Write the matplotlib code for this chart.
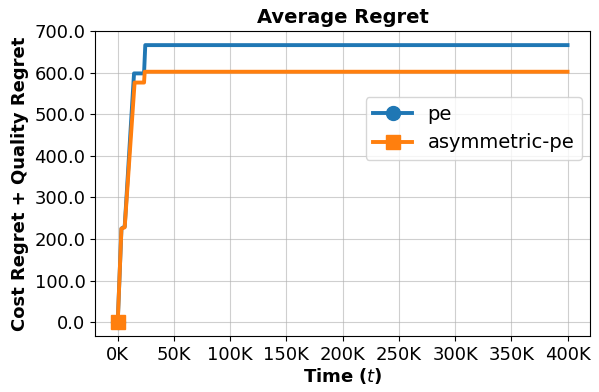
import matplotlib
matplotlib.use('Agg')
import matplotlib.pyplot as plt
from matplotlib.ticker import FuncFormatter, FormatStrFormatter

# Tijdstappen en gemiddelde regret
t_pe = [0, 3300, 6200, 14500, 23400, 24500, 400000]
regret_pe = [0, 225, 230, 598, 598, 666, 666]

t_asym = [0, 3300, 6200, 15000, 23400, 24000, 400000]
regret_asym = [0, 225, 228, 576, 576, 602, 602]

plt.rcParams['font.size'] = 13

fig = plt.figure(figsize=(5.99, 3.92), dpi=100)
ax = fig.add_axes([0.159, 0.143, 0.826, 0.778])

ax.plot(t_pe, regret_pe, color='#1f77b4', linewidth=2.8, marker='o', markersize=10,
        markevery=[0], label='pe')
ax.plot(t_asym, regret_asym, color='#ff7f0e', linewidth=2.8, marker='s', markersize=10,
        markevery=[0], label='asymmetric-pe')

ax.set_xlim(-20000, 420000)
ax.set_ylim(-33, 700)
ax.set_xticks(range(0, 400001, 50000))
ax.set_yticks(range(0, 701, 100))
ax.xaxis.set_major_formatter(FuncFormatter(lambda x, p: f"{int(x/1000)}K"))
ax.yaxis.set_major_formatter(FormatStrFormatter('%.1f'))

ax.set_title("Average Regret", fontweight='bold', fontsize=14)
ax.set_xlabel("Time ($t$)", fontweight='bold', fontsize=13, labelpad=2)
ax.set_ylabel("Cost Regret + Quality Regret", fontweight='bold', fontsize=13)
ax.grid(True, color='#b0b0b0', alpha=0.6)
ax.legend(loc='center right', bbox_to_anchor=(1.004, 0.68), fontsize=14)

fig.savefig('out.png', dpi=100)
